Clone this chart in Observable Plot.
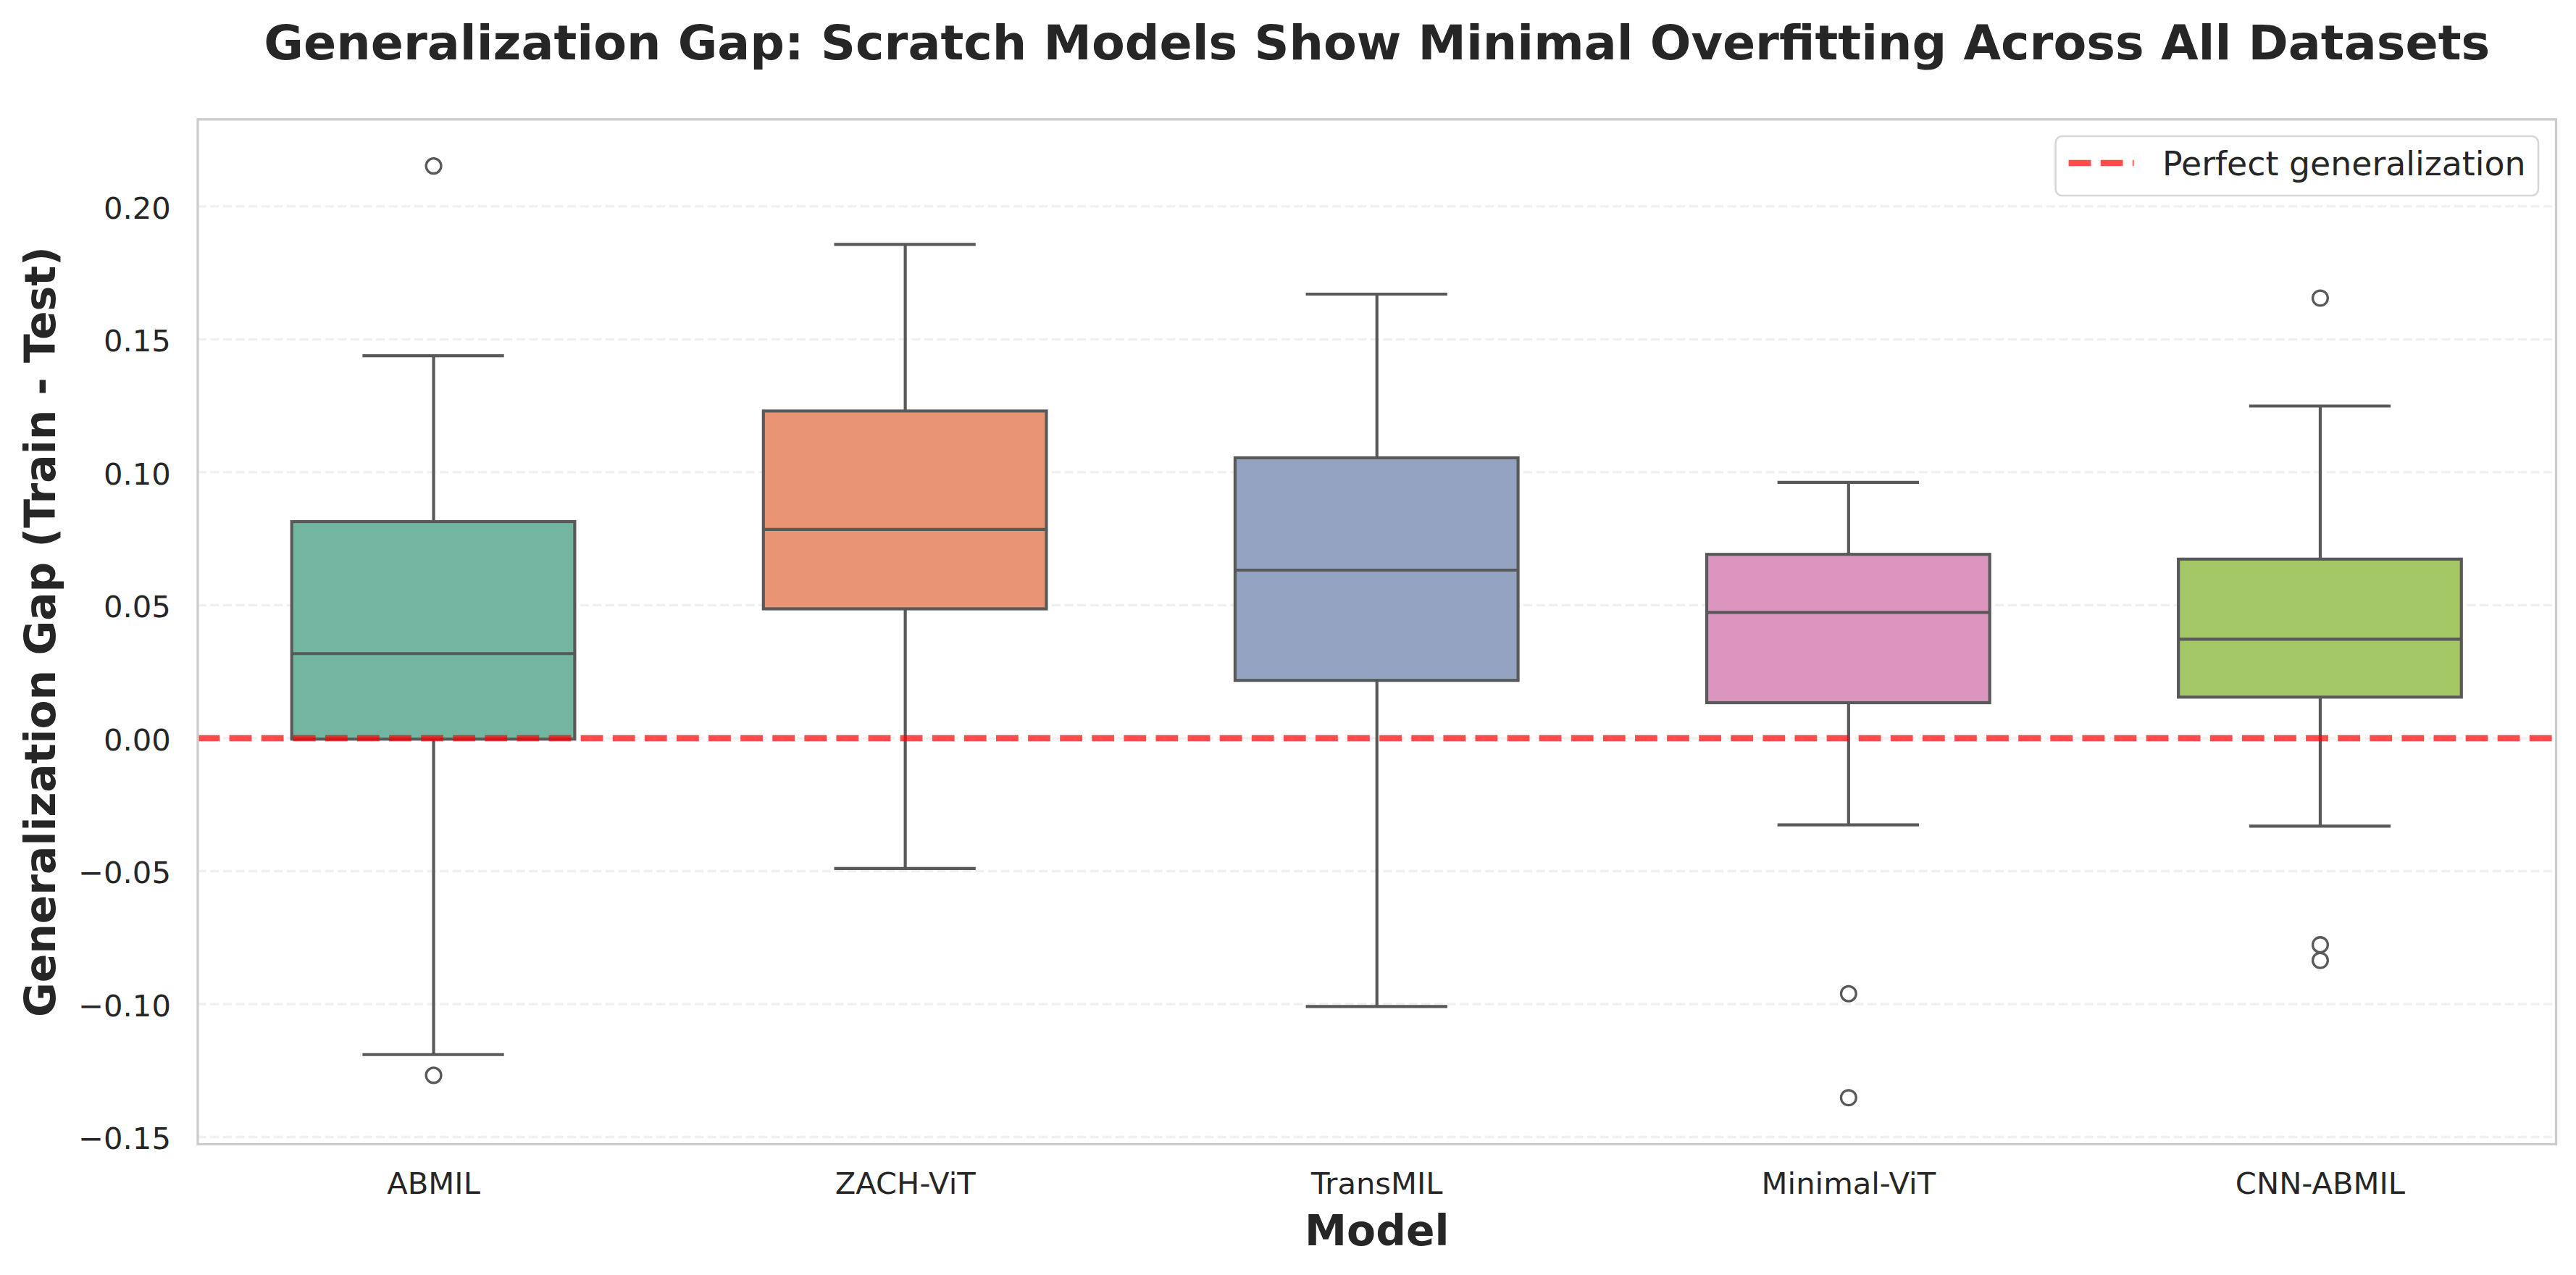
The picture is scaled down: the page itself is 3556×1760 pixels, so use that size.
<!DOCTYPE html>
<html>
<head>
<meta charset="utf-8">
<script src="https://cdn.jsdelivr.net/npm/d3@7"></script>
<script src="https://cdn.jsdelivr.net/npm/@observablehq/plot@0.6"></script>
<style>
html, body { margin: 0; padding: 0; background: #ffffff; }
#chart { position: relative; width: 3556px; height: 1760px; font-family: "DejaVu Sans", sans-serif; }
#chart svg { display: block; }
</style>
</head>
<body>
<div id="chart"></div>
<script>
// ---- data ----
const models = ["ABMIL", "ZACH-ViT", "TransMIL", "Minimal-ViT", "CNN-ABMIL"];
const whiskerLow  = [-0.1190, -0.0490, -0.1009, -0.0326, -0.0331];
const q1          = [-0.0005,  0.0485,  0.0216,  0.0132,  0.0153];
const median      = [ 0.0318,  0.0785,  0.0632,  0.0473,  0.0372];
const q3          = [ 0.0813,  0.1229,  0.1053,  0.0690,  0.0672];
const whiskerHigh = [ 0.1438,  0.1857,  0.1670,  0.0962,  0.1249];
const outlierModel = ["ABMIL", "ABMIL", "Minimal-ViT", "Minimal-ViT", "CNN-ABMIL", "CNN-ABMIL", "CNN-ABMIL"];
const outlierValue = [0.2152, -0.1268, -0.0961, -0.1352, 0.1655, -0.0777, -0.0836];
const yTicks = [-0.15, -0.10, -0.05, 0.00, 0.05, 0.10, 0.15, 0.20];
const boxColors = ["#72b6a1", "#e99575", "#95a3c3", "#db96c0", "#a2c764"];
const referenceValue = [0];
const titleText = "Generalization Gap: Scratch Models Show Minimal Overfitting Across All Datasets";
const xLabel = "Model";
const yLabel = "Generalization Gap (Train - Test)";
const legendLabel = "Perfect generalization";

// ---- tables built from the arrays ----
const boxes = models.map((m, i) => ({
  model: m, lo: whiskerLow[i], q1: q1[i], med: median[i], q3: q3[i], hi: whiskerHigh[i]
}));
const outliers = outlierModel.map((m, i) => ({model: m, value: outlierValue[i]}));

// ---- layout ----
const W = 3556, H = 1760;
const mL = 272.5, mR = 28, mT = 164.3, mB = 181;
const bw = (W - mL - mR) / models.length;
const boxInset = 0.2 * bw;
const capInset = 0.35 * bw;
const ink = "#262626";
const edge = "#595959";
const lw = 4.17;

const allVals = [...whiskerLow, ...whiskerHigh, ...outlierValue];
const vMin = d3.min(allVals), vMax = d3.max(allVals);
const pad = (vMax - vMin) * 0.05;

const chart = Plot.plot({
  width: W,
  height: H,
  marginLeft: mL,
  marginRight: mR,
  marginTop: mT,
  marginBottom: mB,
  style: {fontFamily: "DejaVu Sans, sans-serif", background: "#ffffff", color: ink},
  x: {domain: models, padding: 0, round: false, axis: null},
  y: {domain: [vMin - pad, vMax + pad], axis: null},
  color: {domain: models, range: boxColors},
  marks: [
    Plot.gridY(yTicks, {stroke: "#cccccc", strokeOpacity: 0.3, strokeWidth: 3.33, strokeDasharray: "12.3 5.3"}),
    Plot.barY(boxes, {x: "model", y1: "q1", y2: "q3", fill: "model", stroke: edge, strokeWidth: lw,
      insetLeft: boxInset, insetRight: boxInset}),
    Plot.ruleX(boxes, {x: "model", y1: "q3", y2: "hi", stroke: edge, strokeWidth: lw}),
    Plot.ruleX(boxes, {x: "model", y1: "q1", y2: "lo", stroke: edge, strokeWidth: lw}),
    Plot.tickY(boxes, {x: "model", y: "hi", stroke: edge, strokeWidth: lw, insetLeft: capInset, insetRight: capInset}),
    Plot.tickY(boxes, {x: "model", y: "lo", stroke: edge, strokeWidth: lw, insetLeft: capInset, insetRight: capInset}),
    Plot.tickY(boxes, {x: "model", y: "med", stroke: edge, strokeWidth: lw, insetLeft: boxInset, insetRight: boxInset}),
    Plot.dot(outliers, {x: "model", y: "value", r: 10.4, stroke: edge, strokeWidth: 3.3, fill: "none"}),
    Plot.ruleY(referenceValue, {stroke: "red", strokeOpacity: 0.7, strokeWidth: 8.33, strokeDasharray: "30.8 13.3"}),
    Plot.frame({stroke: "#cccccc", strokeWidth: 3.3}),
    Plot.axisX({tickSize: 0, tickPadding: 38.4, fontSize: 41.7, fill: ink, label: null}),
    Plot.axisY({ticks: yTicks, tickFormat: d3.format(".2f"), tickSize: 0, tickPadding: 37.1,
      fontSize: 41.7, fill: ink, dy: 3.5, label: null}),
    Plot.text([titleText], {text: d => d, frameAnchor: "top", dy: -(mT - 81.7), lineAnchor: "bottom",
      textAnchor: "middle", fontSize: 66.7, fontWeight: "bold", fill: ink}),
    Plot.text([xLabel], {text: d => d, frameAnchor: "bottom", dy: 1718 - (H - mB), lineAnchor: "bottom",
      textAnchor: "middle", fontSize: 58.3, fontWeight: "bold", fill: ink}),
    Plot.text([yLabel], {text: d => d, frameAnchor: "left", rotate: -90, dx: 75 - mL, lineAnchor: "bottom",
      textAnchor: "middle", fontSize: 58.3, fontWeight: "bold", fill: ink})
  ]
});

// ---- legend (upper right, inside the axes) ----
const svg = d3.select(chart);
const lg = svg.append("g").attr("class", "legend");
lg.append("rect")
  .attr("x", 2837.6).attr("y", 188).attr("width", 666.4).attr("height", 82)
  .attr("rx", 9).attr("ry", 9)
  .attr("fill", "#ffffff").attr("fill-opacity", 0.8)
  .attr("stroke", "#cccccc").attr("stroke-opacity", 0.8).attr("stroke-width", 2.5);
lg.append("line")
  .attr("x1", 2855.6).attr("x2", 2945.6).attr("y1", 225).attr("y2", 225)
  .attr("stroke", "red").attr("stroke-opacity", 0.7).attr("stroke-width", 8.33)
  .attr("stroke-dasharray", "30.8 13.3");
lg.append("text")
  .attr("x", 2985).attr("y", 241.7)
  .attr("text-anchor", "start")
  .attr("font-size", 45.8).attr("fill", ink)
  .attr("font-family", "DejaVu Sans, sans-serif")
  .text(legendLabel);

document.getElementById("chart").appendChild(chart);
</script>
</body>
</html>
